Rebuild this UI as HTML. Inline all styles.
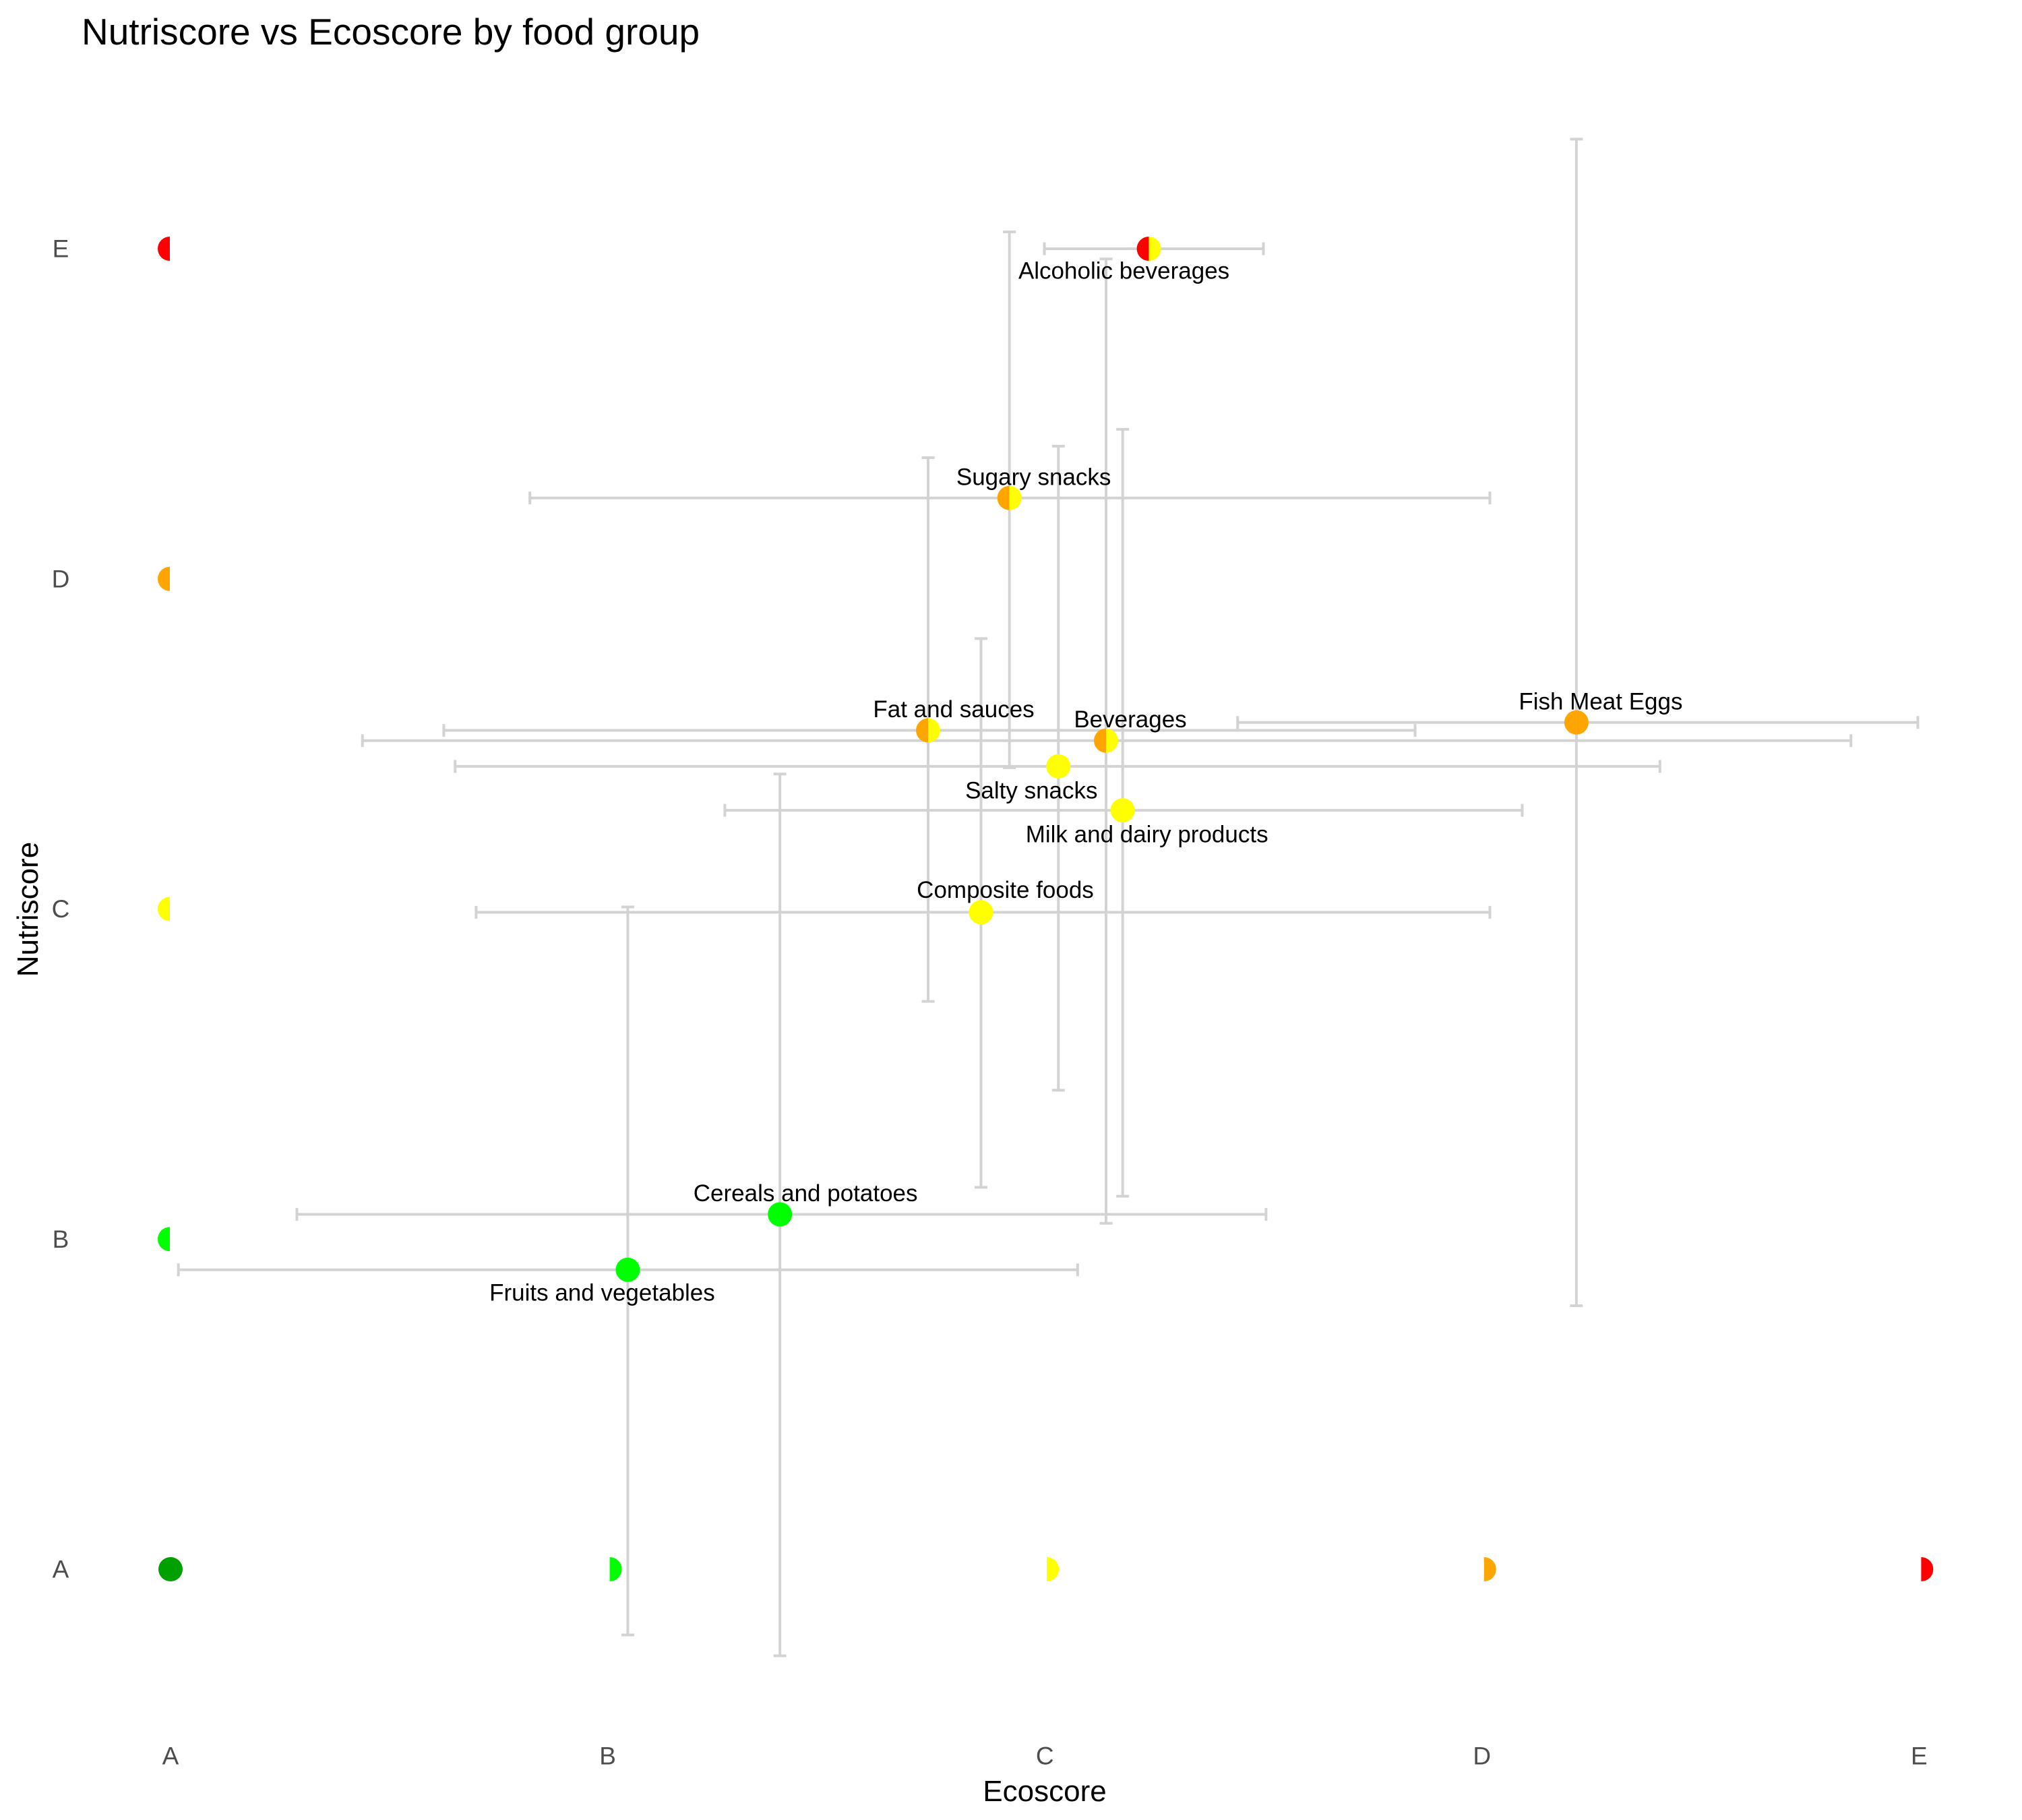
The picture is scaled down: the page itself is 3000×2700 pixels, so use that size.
<!DOCTYPE html>
<html><head><meta charset="utf-8"><style>
html,body{margin:0;padding:0;background:#fff;}
svg{display:block;font-family:"Liberation Sans",Arial,sans-serif;}
</style></head><body>
<svg id="chart" width="3000" height="2700" viewBox="0 0 3000 2700" xmlns="http://www.w3.org/2000/svg">
<text x="121" y="66" font-size="55" fill="#000">Nutriscore vs Ecoscore by food group</text>
<text x="1550" y="2672" font-size="44" text-anchor="middle" fill="#000">Ecoscore</text>
<text transform="translate(56,1349) rotate(-90)" font-size="44" text-anchor="middle" fill="#000">Nutriscore</text>
<g id="ticks"></g><g id="bars"></g><g id="edge"></g><g id="points"></g><g id="labels"></g>
</svg>
<script>
const grades = ["A","B","C","D","E"];
const gradeColors = ["#00a000","#00ff00","#ffff00","#ffa500","#ff0000"];
const groups = ["Alcoholic beverages","Sugary snacks","Fat and sauces","Beverages","Salty snacks","Milk and dairy products","Composite foods","Fish Meat Eggs","Cereals and potatoes","Fruits and vegetables"];
const ecoMean = [2.238,1.919,1.733,2.14,2.031,2.178,1.854,3.216,1.394,1.046];
const ecoLow  = [1.999,0.822,0.625,0.439,0.651,1.268,0.699,2.441,0.289,0.018];
const ecoHigh = [2.5,3.018,2.847,3.844,3.407,3.092,3.018,3.997,2.506,2.075];
const nutMean = [4.0,3.245,2.541,2.51,2.432,2.299,1.99,2.565,1.075,0.907];
const nutLow  = [4.0,2.428,1.72,1.048,1.451,1.13,1.157,0.798,-0.262,-0.199];
const nutHigh = [4.0,4.051,3.367,3.969,3.402,3.453,2.819,4.332,2.409,2.006];
const leftColor  = ["#ff0000","#ffa500","#ffa500","#ffa500","#ffff00","#ffff00","#ffff00","#ffa500","#00ff00","#00ff00"];
const rightColor = ["#ffff00","#ffff00","#ffff00","#ffff00","#ffff00","#ffff00","#ffff00","#ffa500","#00ff00","#00ff00"];
const labelDx = [-37,36,38,36,-40,36,36,36,38,-38];
const labelDy = [33,-31,-31,-31,36,36,-33,-31,-31,34];

const NS="http://www.w3.org/2000/svg";
function xs(v){return 253+648.6*v;}
function ys(v){return 2328-489.75*v;}
function mk(tag,attrs,parent){const e=document.createElementNS(NS,tag);for(const k in attrs)e.setAttribute(k,attrs[k]);document.getElementById(parent).appendChild(e);return e;}
const R=18, CAP=9.5, GR="#d3d3d3";
grades.forEach((g,i)=>{
  let t=mk("text",{x:xs(i),y:2605,"font-size":37,"text-anchor":"middle","dominant-baseline":"central",fill:"#4d4d4d"},"ticks");
  t.textContent=g;
  
  
  let u=mk("text",{x:90,y:ys(i),"font-size":37,"text-anchor":"middle","dominant-baseline":"central",fill:"#4d4d4d"},"ticks");
  u.textContent=g;
  
  
  if(i>0){
    let p=mk("path",{d:`M${xs(0)-1},${ys(i)-R} A${R},${R} 0 0 0 ${xs(0)-1},${ys(i)+R} Z`,fill:gradeColors[i]},"edge");
    
    
    let q=mk("path",{d:`M${xs(i)+3},${ys(0)-R} A${R},${R} 0 0 1 ${xs(i)+3},${ys(0)+R} Z`,fill:gradeColors[i]},"edge");
    
    
  } else {
    let c=mk("circle",{cx:xs(0),cy:ys(0),r:R,fill:gradeColors[0]},"edge");
    
    
  }
});
groups.forEach((g,i)=>{
  const cx=xs(ecoMean[i]), cy=ys(nutMean[i]);
  const bars=document.createElementNS(NS,"g");
  
  
  document.getElementById("bars").appendChild(bars);
  const segs=[[xs(ecoLow[i]),cy,xs(ecoHigh[i]),cy],[xs(ecoLow[i]),cy-CAP,xs(ecoLow[i]),cy+CAP],[xs(ecoHigh[i]),cy-CAP,xs(ecoHigh[i]),cy+CAP]];
  if(nutHigh[i]!==nutLow[i]){segs.push([cx,ys(nutLow[i]),cx,ys(nutHigh[i])],[cx-CAP,ys(nutLow[i]),cx+CAP,ys(nutLow[i])],[cx-CAP,ys(nutHigh[i]),cx+CAP,ys(nutHigh[i])]);}
  segs.forEach(s=>{const l=document.createElementNS(NS,"line");l.setAttribute("x1",s[0]);l.setAttribute("y1",s[1]);l.setAttribute("x2",s[2]);l.setAttribute("y2",s[3]);l.setAttribute("stroke",GR);l.setAttribute("stroke-width",4);bars.appendChild(l);});
  const pl=mk("path",{d:`M${cx},${cy-R} A${R},${R} 0 0 0 ${cx},${cy+R} Z`,fill:leftColor[i]},"points");
  
  
  const pr=mk("path",{d:`M${cx},${cy-R} A${R},${R} 0 0 1 ${cx},${cy+R} Z`,fill:rightColor[i]},"points");
  
  
  const t=mk("text",{x:cx+labelDx[i],y:cy+labelDy[i],"font-size":35,"text-anchor":"middle","dominant-baseline":"central",fill:"#000"},"labels");
  t.textContent=g;
  
  
});
</script>
</body></html>
